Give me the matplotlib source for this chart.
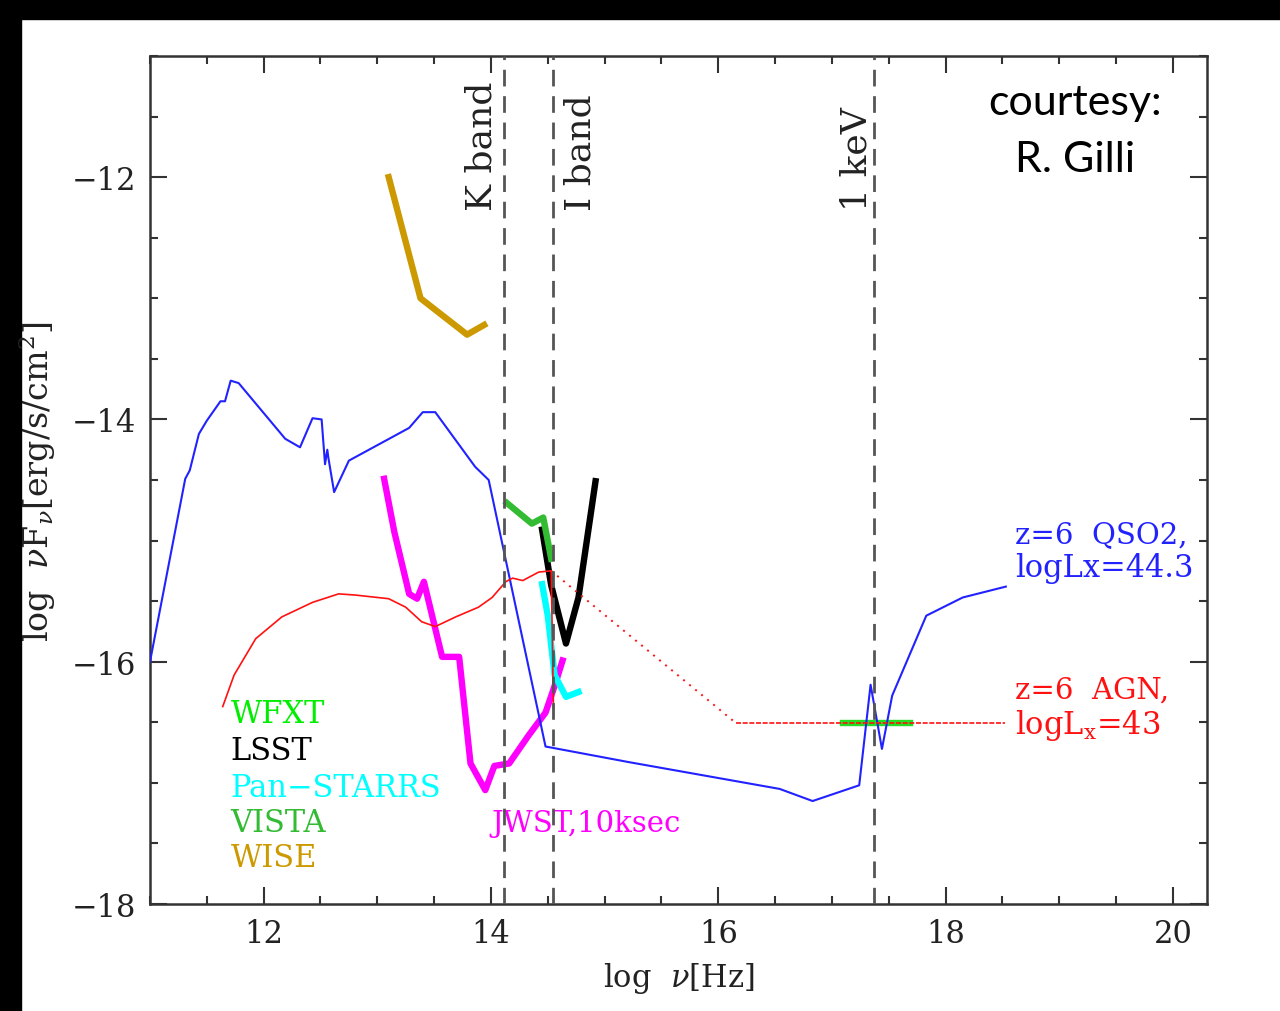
import matplotlib
matplotlib.use("Agg")
import matplotlib.pyplot as plt
from matplotlib.patches import Rectangle
from matplotlib.ticker import MultipleLocator

plt.rcParams['font.family'] = ['DejaVu Serif']
plt.rcParams['mathtext.fontset'] = 'dejavuserif'

# ---------------- data ----------------
qso_x = [11.0, 11.31, 11.35, 11.43, 11.50, 11.62, 11.66, 11.71, 11.78, 12.19, 12.32, 12.43,
         12.51, 12.54, 12.56, 12.57, 12.62, 12.75, 13.28, 13.40, 13.51, 13.86, 13.98, 14.48,
         15.22, 16.54, 16.83, 17.24, 17.34, 17.44, 17.53, 17.83, 18.15, 18.53]
qso_y = [-16.0, -14.49, -14.42, -14.12, -14.01, -13.85, -13.85, -13.68, -13.70, -14.16, -14.23, -13.99,
         -14.0, -14.37, -14.25, -14.32, -14.60, -14.34, -14.07, -13.94, -13.94, -14.39, -14.50, -16.70,
         -16.83, -17.05, -17.15, -17.02, -16.19, -16.72, -16.28, -15.62, -15.47, -15.38]

agn_x = [11.64, 11.74, 11.93, 12.16, 12.43, 12.66, 12.81, 13.10, 13.25, 13.39, 13.51, 13.69,
         13.89, 14.01, 14.13, 14.19, 14.28, 14.42, 14.53, 14.55]
agn_y = [-16.37, -16.11, -15.81, -15.63, -15.51, -15.44, -15.45, -15.48, -15.55, -15.67, -15.71, -15.63,
         -15.55, -15.47, -15.34, -15.31, -15.33, -15.26, -15.25, -16.39]
agn_gap_x = [14.53, 16.16]
agn_gap_y = [-15.25, -16.51]
agn_xray_x = [16.16, 18.52]
agn_xray_y = [-16.51, -16.51]

jwst_x = [13.06, 13.15, 13.28, 13.35, 13.41, 13.57, 13.72, 13.82, 13.95, 14.03, 14.16, 14.33,
          14.48, 14.56, 14.63]
jwst_y = [-14.49, -14.93, -15.44, -15.48, -15.34, -15.96, -15.96, -16.84, -17.06, -16.86, -16.84, -16.61,
          -16.42, -16.20, -15.99]

vista_x = [14.14, 14.36, 14.46, 14.53]
vista_y = [-14.69, -14.86, -14.81, -15.15]
lsst_x = [14.45, 14.53, 14.66, 14.77, 14.92]
lsst_y = [-14.91, -15.37, -15.85, -15.47, -14.51]
ps_x = [14.45, 14.50, 14.56, 14.66, 14.77]
ps_y = [-15.36, -15.62, -16.11, -16.29, -16.25]
wise_x = [13.10, 13.38, 13.79, 13.94]
wise_y = [-12.0, -13.0, -13.30, -13.22]
wfxt_x = [17.10, 17.69]
wfxt_y = [-16.51, -16.51]

band_x = [14.115, 14.546, 17.374]
band_labels = ['K band', 'I band', '1 keV']
band_label_x = [13.92, 14.79, 17.22]

legend_names = ['WFXT', 'LSST', 'Pan\u2212STARRS', 'VISTA', 'WISE']
legend_colors = ['#00ee00', '#000000', '#00ffff', '#33bb33', '#cc9900']
legend_y = [-16.50, -16.80, -17.11, -17.40, -17.69]

# ---------------- figure ----------------
fig = plt.figure(figsize=(12.8, 10.12), dpi=100)
fig.patch.set_facecolor('white')
fig.patches.append(Rectangle((0, 1 - 20 / 1012), 1, 20 / 1012, transform=fig.transFigure,
                             color='black', zorder=0))
fig.patches.append(Rectangle((0, 0), 21 / 1280, 1, transform=fig.transFigure,
                             color='black', zorder=0))

ax = fig.add_axes([150 / 1280, 1 - 905 / 1012, (1207 - 150) / 1280, (905 - 57) / 1012])
ax.set_xlim(11, 20.3)
ax.set_ylim(-18, -11)

# curves
ax.plot(jwst_x, jwst_y, color='#ff00ff', lw=4.6, zorder=3)
ax.plot(qso_x, qso_y, color='#2222ff', lw=1.5, zorder=4)
ax.plot(agn_x, agn_y, color='#ff1111', lw=1.2, zorder=5)
ax.plot(agn_gap_x, agn_gap_y, color='#ff1111', lw=1.4, ls=(0, (1, 3)), zorder=5)
ax.plot(agn_xray_x, agn_xray_y, color='#ff1111', lw=1.2, ls=(0, (3, 1)), zorder=5)
ax.plot(wise_x, wise_y, color='#cc9900', lw=4.6, zorder=3)
ax.plot(lsst_x, lsst_y, color='black', lw=4.6, zorder=3)
ax.plot(vista_x, vista_y, color='#33bb33', lw=4.6, zorder=3)
ax.plot(ps_x, ps_y, color='#00ffff', lw=4.6, zorder=3)
ax.plot(wfxt_x, wfxt_y, color='#22dd22', lw=4.6, zorder=3)

for bx in band_x:
    ax.axvline(bx, color='#555555', lw=2, ls=(0, (6, 3.5)), zorder=6)
for lx, lab in zip(band_label_x, band_labels):
    ax.text(lx, -12.27, lab, rotation=90, ha='center', va='bottom', fontsize=26, color='#222222')

for name, col, yy in zip(legend_names, legend_colors, legend_y):
    ax.text(11.71, yy, name, color=col, fontsize=22, va='baseline', ha='left')
ax.text(14.0, -17.40, 'JWST,10ksec', color='#ff00ff', fontsize=21, va='baseline', ha='left')

ax.text(18.61, -15.01, 'z=6  QSO2,', color='#2222ff', fontsize=21, va='baseline', ha='left')
ax.text(18.61, -15.29, 'logLx=44.3', color='#2222ff', fontsize=22, va='baseline', ha='left')
ax.text(18.61, -16.30, 'z=6  AGN,', color='#ff1111', fontsize=21, va='baseline', ha='left')
ax.text(18.61, -16.59, r'logL$_{\rm x}$=43', color='#ff1111', fontsize=22, va='baseline', ha='left')

# courtesy
fig.text(1075 / 1280, 1 - 115 / 1012, 'courtesy:', family='Lato', fontsize=31,
         ha='center', va='baseline', color='black')
fig.text(1075 / 1280, 1 - 172 / 1012, 'R. Gilli', family='Lato', fontsize=31,
         ha='center', va='baseline', color='black')

# ticks
ax.xaxis.set_major_locator(MultipleLocator(2))
ax.xaxis.set_minor_locator(MultipleLocator(0.5))
ax.yaxis.set_major_locator(MultipleLocator(2))
ax.yaxis.set_minor_locator(MultipleLocator(0.5))
ax.tick_params(which='both', direction='in', top=True, right=True, color='#333333', width=1.5)
ax.tick_params(which='major', length=12, labelsize=22, labelcolor='#222222', pad=10)
ax.tick_params(which='minor', length=6)
for s in ax.spines.values():
    s.set_color('#333333')
    s.set_linewidth(1.8)

ax.set_xlabel(r'log  $\nu$[Hz]', fontsize=22, color='#222222', labelpad=8)
fig.text(37 / 1280, 1 - 482 / 1012, r'log  $\nu$F$_\nu$[erg/s/cm$^2$]', rotation=90,
         fontsize=24, color='#222222', ha='center', va='center')

fig.savefig('out.png', dpi=100)
